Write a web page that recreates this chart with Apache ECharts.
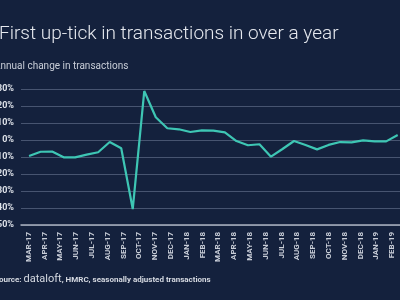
<!DOCTYPE html>
<html>
<head>
<meta charset="utf-8">
<script src="https://cdn.jsdelivr.net/npm/echarts@6/dist/echarts.min.js"></script>
<style>
  html, body { margin: 0; padding: 0; background: #14213d; }
  #chart { width: 400px; height: 300px; }
</style>
</head>
<body>
<div id="chart"></div>
<script>
// month labels shown under the axis
const months = [
  'MAR-17', 'APR-17', 'MAY-17', 'JUN-17', 'JUL-17', 'AUG-17', 'SEP-17', 'OCT-17',
  'NOV-17', 'DEC-17', 'JAN-18', 'FEB-18', 'MAR-18', 'APR-18', 'MAY-18', 'JUN-18',
  'JUL-18', 'AUG-18', 'SEP-18', 'OCT-18', 'NOV-18', 'DEC-18', 'JAN-19', 'FEB-19'
];
// annual change in transactions (%)
const change = [
  -9.4, -6.9, -6.8, -10.2, -10.2, -8.6, -7.2, -1.2, -4.9, -40.6, 28.8, 13.4,
  6.9, 6.3, 4.7, 5.7, 5.5, 4.5, -0.6, -3.1, -2.5, -9.8, -5.3, -0.6,
  -2.9, -5.5, -2.9, -1.2, -1.4, -0.2, -0.8, -0.8, 2.9
];
const yTicks = [-50, -40, -30, -20, -10, 0, 10, 20, 30];

const chart = echarts.init(document.getElementById('chart'));
chart.setOption({
  backgroundColor: '#14213d',
  animation: false,
  graphic: [
    {
      type: 'text', x: -1, y: 25,
      style: {
        text: 'First up-tick in transactions in over a year',
        fill: '#e6e9ef', font: '300 19px Roboto'
      }
    },
    {
      type: 'text', x: -6, y: 61,
      style: {
        text: 'Annual change in transactions',
        fill: '#c9ced8', font: 'normal 10px Roboto'
      }
    },
    {
      type: 'text', x: -6, y: 274,
      style: {
        text: '{a|Source: }{b|dataloft}{a|, HMRC, seasonally adjusted transactions}',
        rich: {
          a: { fill: '#d5d9e1', fontSize: 8, fontWeight: 'bold', fontFamily: 'Roboto' },
          b: { fill: '#d5d9e1', fontSize: 11, fontWeight: 'normal', fontFamily: 'Roboto' }
        }
      }
    }
  ],
  grid: { left: 21, right: 0, top: 89, bottom: 75, outerBoundsMode: 'none', containLabel: false },
  xAxis: [
    {
      type: 'category',
      data: months,
      boundaryGap: true,
      axisLine: { onZero: false, lineStyle: { color: '#aab1c0', width: 1.5 } },
      axisTick: { show: false },
      axisLabel: {
        rotate: 90, interval: 0, margin: 7,
        color: '#c9ced8', fontSize: 8, fontWeight: 'bold', fontFamily: 'Roboto'
      }
    },
    {
      type: 'value',
      min: -0.7, max: 32.2,
      show: false
    }
  ],
  yAxis: {
    type: 'value',
    min: -50, max: 30, interval: 10,
    axisLine: { show: false },
    axisTick: { show: false },
    splitLine: { lineStyle: { color: '#475470', width: 1 } },
    axisLabel: {
      margin: 7, color: '#dde1e8', fontSize: 9, fontWeight: 'bold', fontFamily: 'Roboto',
      formatter: v => yTicks.includes(v) ? v + '%' : ''
    }
  },
  series: [{
    type: 'line',
    xAxisIndex: 1,
    data: change.map((v, i) => [i, v]),
    showSymbol: false,
    clip: false,
    lineStyle: { color: '#3ec6b4', width: 2.2 },
    itemStyle: { color: '#3ec6b4' }
  }]
});
</script>
</body>
</html>
